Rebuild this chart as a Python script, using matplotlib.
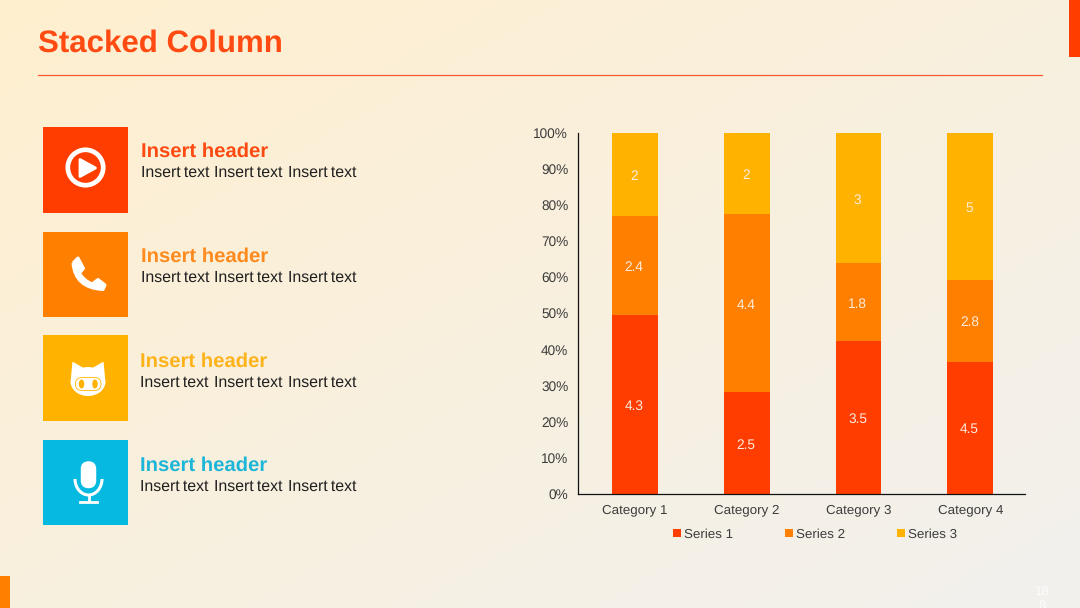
import numpy as np
import matplotlib
matplotlib.use('Agg')
import matplotlib.pyplot as plt
from matplotlib.patches import Rectangle, Circle, Ellipse, Polygon, FancyBboxPatch, Arc, PathPatch
from matplotlib.path import Path

plt.rcParams['font.family'] = ['Liberation Sans', 'DejaVu Sans']
plt.rcParams['text.hinting'] = 'no_hinting'
plt.rcParams['text.hinting_factor'] = 8

categories = ['Category 1', 'Category 2', 'Category 3', 'Category 4']
series_names = ['Series 1', 'Series 2', 'Series 3']
series_1 = [4.3, 2.5, 3.5, 4.5]
series_2 = [2.4, 4.4, 1.8, 2.8]
series_3 = [2, 2, 3, 5]
series_colors = ['#FF3D00', '#FF8000', '#FFB300']

header_text = 'Insert header'
body_text = 'Insert\u2009text'

RED, ORANGE, YELLOW, BLUE = '#FF3D00', '#FF8000', '#FFB300', '#06B9E0'
W, H = 1080, 608

fig = plt.figure(figsize=(W / 100, H / 100), dpi=100)

# page layer in pixel coordinates, y pointing down
page = fig.add_axes([0, 0, 1, 1])
page.axis('off')

# diagonal background gradient
yy, xx = np.mgrid[0:1:152j, 0:1:270j]
t = (0.5 * xx + 0.5 * yy)[..., None]
start = np.array([255, 239, 207]) / 255
end = np.array([242, 241, 238]) / 255
page.imshow(start + (end - start) * t, extent=(0, W, H, 0), aspect='auto', zorder=0)
page.set_xlim(0, W)
page.set_ylim(H, 0)

# corner accents and title
page.add_patch(Rectangle((1069, 0), 11, 57, color=RED, lw=0, zorder=1))
page.add_patch(Rectangle((0, 576), 10, 32, color=ORANGE, lw=0, zorder=1))
page.text(37.5, 43.5, 'Stacked Column', color='#FF4A12', fontsize=22.5, fontweight='bold', va='center', ha='left')
page.plot([38, 1042], [74.5, 74.5], color='#FF5A30', lw=0.9, zorder=1)
page.text(1042, 592, '18', color='white', alpha=0.8, fontsize=9.6, ha='center', va='center')
page.text(1042, 606, '8', color='white', alpha=0.8, fontsize=9.6, ha='center', va='center')

# tiles with header and body text
tiles = [(127, 86, RED), (232, 85, ORANGE), (335, 86, YELLOW), (440, 85, BLUE)]
for top, height, color in tiles:
    page.add_patch(Rectangle((43, top), 85, height, color=color, lw=0, zorder=1))

for (y, tx, color) in [(151, 141, '#FF4A12'), (256, 141, '#FF8A1E'), (361, 140.5, '#FFB31A'), (465, 140.5, '#1DB6D8')]:
    page.text(tx, y + 1, header_text, color=color, fontsize=14.6, fontweight='bold', va='center', ha='left')
    for shift in (0, 73.5, 147):
        page.text(tx + shift, y + 22, body_text, color='#1F1F1F', fontsize=11.4, va='center', ha='left')

# play icon
page.add_patch(Circle((85.5, 167.5), 17.7, fc='none', ec='white', lw=3.4, zorder=2))
page.add_patch(Polygon([[80, 159.5], [80, 176.5], [95.5, 168]], closed=True, fc='white', ec='white', lw=2,
                       joinstyle='round', zorder=2))

# phone icon
handset = Path([(73, 263), (78, 258), (83.5, 268.5), (79.5, 273), (83, 280), (92, 284), (98, 279.5),
                (105, 285), (103, 289.5), (75, 288), (73, 263)],
               [Path.MOVETO, Path.LINETO, Path.LINETO, Path.LINETO, Path.CURVE3, Path.CURVE3, Path.LINETO,
                Path.LINETO, Path.LINETO, Path.CURVE3, Path.CURVE3])
page.add_patch(PathPatch(handset, fc='white', ec='white', lw=2.2, joinstyle='round', zorder=2))

# cat icon
page.add_patch(Ellipse((88, 381.5), 35, 29, fc='white', ec='none', zorder=2))
page.add_patch(Polygon([[73, 362.5], [71.5, 378], [86, 370]], closed=True, fc='white', ec='white', lw=0.8,
                       joinstyle='round', zorder=2))
page.add_patch(Polygon([[103, 362.5], [104.5, 378], [90, 370]], closed=True, fc='white', ec='white', lw=0.8,
                       joinstyle='round', zorder=2))
page.add_patch(FancyBboxPatch((75.5, 377.5), 25.5, 13, boxstyle='round,pad=0,rounding_size=6.5', fc='white',
                              ec=YELLOW, lw=0.6, zorder=3))
page.add_patch(Ellipse((81.5, 384), 5.5, 9, fc=YELLOW, ec='none', zorder=4))
page.add_patch(Ellipse((95, 384), 5.5, 9, fc=YELLOW, ec='none', zorder=4))

# microphone icon
page.add_patch(FancyBboxPatch((82.5, 463), 12, 23.5, boxstyle='round,pad=0,rounding_size=6', fc='white', ec='white',
                              lw=2.5, zorder=2))
page.add_patch(Arc((88.5, 479), 27, 32, theta1=0, theta2=180, ec='white', lw=2.2, zorder=2))
page.plot([88.5, 88.5], [495, 501], color='white', lw=2, zorder=2)
page.plot([80, 97], [501.5, 501.5], color='white', lw=2, zorder=2)

# stacked 100% column chart, axes box placed by pixel edges
left, right, top, bottom = 578, 1025, 133, 493.5
ax = fig.add_axes([left / W, 1 - bottom / H, (right - left) / W, (bottom - top) / H])
ax.patch.set_alpha(0)

x = np.arange(len(categories))
values = np.array([series_1, series_2, series_3], dtype=float)
totals = values.sum(axis=0)
base = np.zeros(len(categories))
for vals, name, color in zip(values, series_names, series_colors):
    share = vals / totals * 100
    ax.bar(x, share, width=0.41, bottom=base, color=color, label=name)
    for xi, b, s, v in zip(x, base, share, vals):
        ax.annotate(f'{v:g}', (xi, b + s / 2), xytext=(-0.6, -1.4), textcoords='offset points',
                    ha='center', va='center', color='#FDEBDD', fontsize=9.8)
    base += share

ax.set_xlim(-0.51, len(categories) - 0.51)
ax.set_ylim(0, 100)
ax.set_xticks(x)
ax.set_xticklabels(categories)
ax.set_yticks(np.arange(0, 101, 10))
ax.set_yticklabels([f'{v}%' for v in range(0, 101, 10)])
ax.tick_params(axis='x', length=0, labelsize=9.6, labelcolor='#3C3C3C', pad=7.5)
ax.tick_params(axis='y', length=0, labelsize=9.8, labelcolor='#3C3C3C', pad=7)
for side in ['top', 'right']:
    ax.spines[side].set_visible(False)
for side in ['left', 'bottom']:
    ax.spines[side].set_color('#111111')
    ax.spines[side].set_linewidth(0.9)

ax.legend(loc='center', bbox_to_anchor=(0.53, -0.114), ncol=3, frameon=False, fontsize=9.6,
          handlelength=0.6, handleheight=0.6, handletextpad=0.22, columnspacing=3.9, labelcolor='#3C3C3C')

fig.savefig('out.png', dpi=100, facecolor=fig.get_facecolor())
